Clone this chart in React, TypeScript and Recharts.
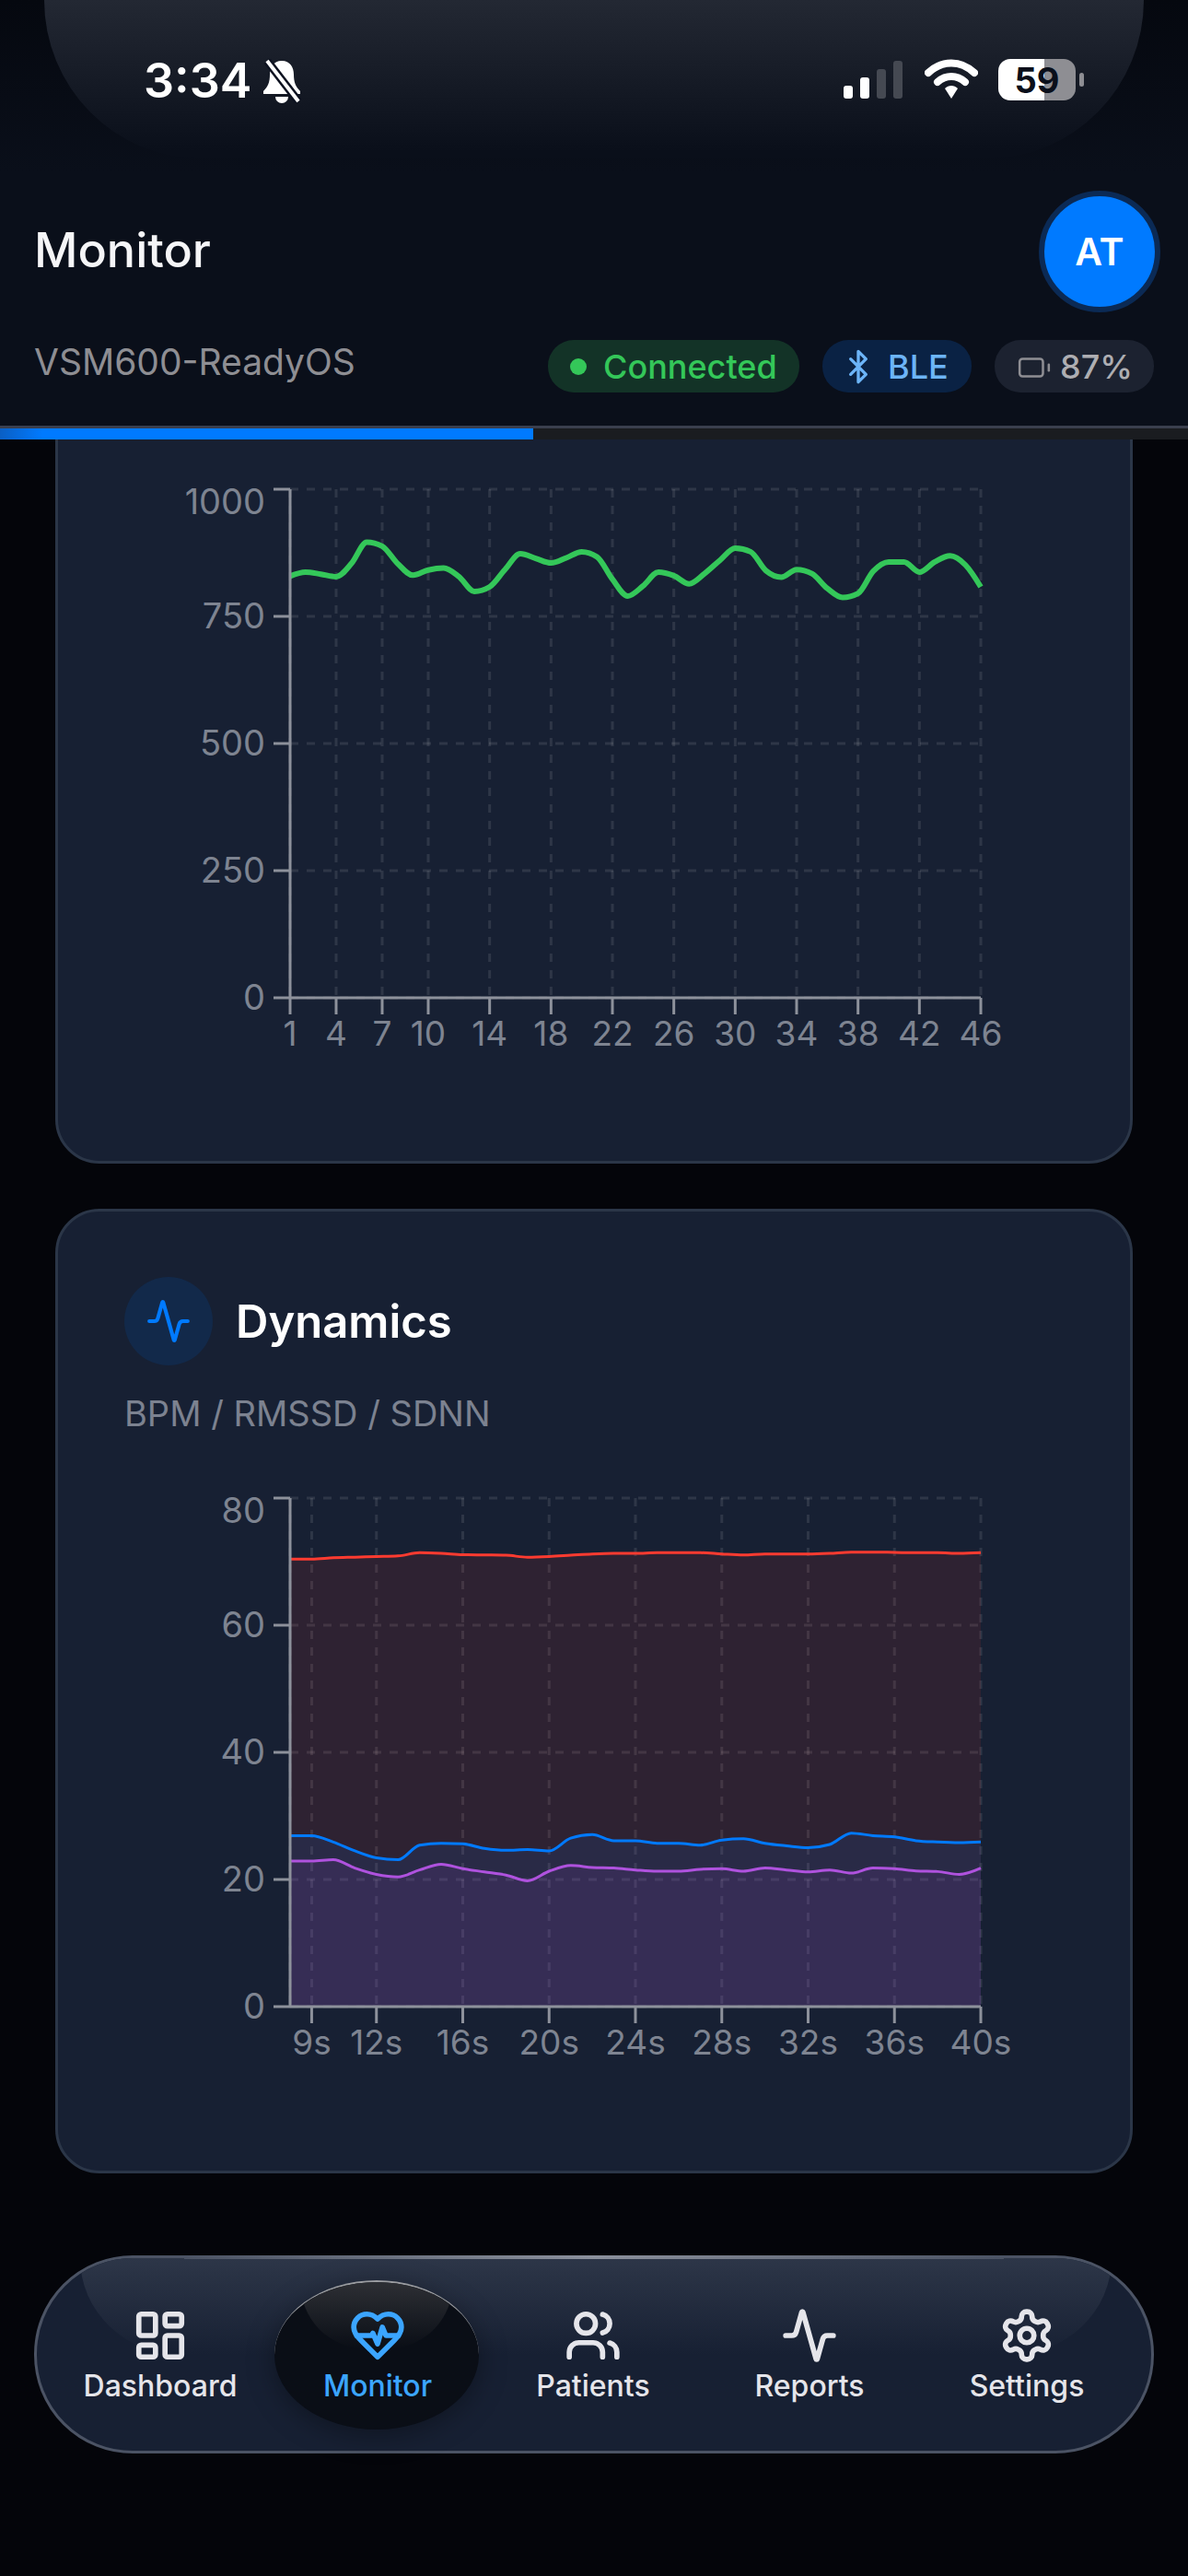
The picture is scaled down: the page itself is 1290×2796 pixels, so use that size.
import { LineChart, Line, AreaChart, Area, XAxis, YAxis, CartesianGrid } from "recharts";

const beatIndex = [1,2,3,4,5,6,7,8,9,10,11,12,13,14,15,16,17,18,19,20,21,22,23,24,25,26,27,28,29,30,31,32,33,34,35,36,37,38,39,40,41,42,43,44,45,46];
const rrValues = [829,837,833,828,854,896,888,854,831,841,845,828,799,808,842,873,864,855,865,877,867,823,790,810,837,830,814,834,860,884,877,840,827,842,834,805,787,795,839,857,857,837,857,869,851,808];
const rrXTicks = [1,4,7,10,14,18,22,26,30,34,38,42,46];
const rrYTicks = [0,250,500,750,1000];

const seconds = [8,9,10,11,12,13,14,15,16,17,18,19,20,21,22,23,24,25,26,27,28,29,30,31,32,33,34,35,36,37,38,39,40];
const bpm = [70.4,70.4,70.6,70.7,70.8,70.9,71.4,71.3,71.1,71.05,71.0,70.7,70.8,71.0,71.2,71.3,71.3,71.4,71.4,71.4,71.2,71.05,71.2,71.2,71.2,71.3,71.5,71.5,71.45,71.4,71.4,71.3,71.4];
const rmssd = [26.9,26.9,25.9,24.5,23.4,23.1,25.4,25.7,25.6,24.9,24.6,24.7,24.5,26.5,27.05,26.1,26.1,25.7,25.7,25.4,26.2,26.4,25.7,25.3,25.0,25.5,27.3,26.9,26.7,26.1,25.9,25.8,25.9];
const sdnn = [22.9,22.9,23.1,21.8,20.8,20.4,21.5,22.4,21.7,21.2,20.7,19.8,21.3,22.2,21.9,21.8,21.5,21.3,21.3,21.6,21.7,21.3,21.8,21.5,21.2,21.5,21.0,21.8,21.7,21.35,21.25,20.8,21.8];
const dynXTicks = [9,12,16,20,24,28,32,36,40];
const dynYTicks = [0,20,40,60,80];

const rrData = beatIndex.map((i, n) => ({ i, rr: rrValues[n] }));
const dynData = seconds.map((s, n) => ({ s, bpm: bpm[n], rmssd: rmssd[n], sdnn: sdnn[n] }));

const FONT = "Inter, 'Noto Sans', sans-serif";
const AXIS = "#8d919b";
const TICK = "#7e8491";
const GRID = "rgba(255,255,255,0.1)";

// the top label sits lower than its tick in the reference
function yTick(top: number) {
  return (p: any) => (
    <text
      x={108}
      y={p.y + (p.payload.value === top ? 14 : 0)}
      dy={13}
      textAnchor="end"
      fill={TICK}
      fontSize={38}
      fontFamily={FONT}
    >
      {p.payload.value}
    </text>
  );
}

function Txt({ x, y, size, weight = 400, color, anchor = "left", children }: any) {
  const shift = anchor === "center" ? "translate(-50%,-50%)" : anchor === "right" ? "translate(-100%,-50%)" : "translateY(-50%)";
  return (
    <div
      style={{
        position: "absolute",
        left: x,
        top: y,
        transform: shift,
        fontSize: size,
        fontWeight: weight,
        color,
        fontFamily: FONT,
        whiteSpace: "nowrap",
        lineHeight: 1,
      }}
    >
      {children}
    </div>
  );
}

function Box({ x, y, w, h, style }: any) {
  return <div style={{ position: "absolute", left: x, top: y, width: w, height: h, boxSizing: "border-box", ...style }} />;
}

function Icon({ cx, cy, size, color, width = 2, children }: any) {
  return (
    <svg
      viewBox="0 0 24 24"
      width={size}
      height={size}
      fill="none"
      stroke={color}
      strokeWidth={width}
      strokeLinecap="round"
      strokeLinejoin="round"
      style={{ position: "absolute", left: cx - size / 2, top: cy - size / 2 }}
    >
      {children}
    </svg>
  );
}

const ActivityPath = () => (
  <path d="M22 12h-2.48a2 2 0 0 0-1.93 1.46l-2.35 8.36a.25.25 0 0 1-.48 0L9.24 2.18a.25.25 0 0 0-.48 0l-2.35 8.36A2 2 0 0 1 4.49 12H2" />
);

function StatusBar() {
  return (
    <>
      <Box
        x={48}
        y={0}
        w={1194}
        h={172}
        style={{
          background: "linear-gradient(#232833, #0a0f1a 95%)",
          borderBottomLeftRadius: "170px 172px",
          borderBottomRightRadius: "170px 172px",
        }}
      />
      <Txt x={156} y={88} size={52} weight={600} color="#fff">3:34</Txt>
      <svg width={46} height={48} viewBox="0 0 46 48" style={{ position: "absolute", left: 283, top: 64 }}>
        <path d="M23 2c-9 0-13 7-13 15 0 8-2 13-7 18v3h40v-3c-5-5-7-10-7-18 0-8-4-15-13-15z" fill="#fff" />
        <path d="M16 41a7 7 0 0 0 14 0z" fill="#fff" />
        <path d="M7 2l34 44" stroke="#0d1220" strokeWidth={9} />
        <path d="M7 2l34 44" stroke="#fff" strokeWidth={4} />
      </svg>
      <Box x={916} y={93} w={10} h={14} style={{ background: "#fff", borderRadius: 3 }} />
      <Box x={934} y={84} w={10} h={23} style={{ background: "#fff", borderRadius: 3 }} />
      <Box x={952} y={75} w={10} h={32} style={{ background: "#454952", borderRadius: 3 }} />
      <Box x={970} y={66} w={10} h={41} style={{ background: "#454952", borderRadius: 3 }} />
      <svg width={58} height={44} viewBox="0 0 58 44" style={{ position: "absolute", left: 1004, top: 64 }}>
        <path d="M4 15C19 1 39 1 54 15" stroke="#fff" strokeWidth={8} fill="none" strokeLinecap="round" />
        <path d="M14 25c9-8 21-8 30 0" stroke="#fff" strokeWidth={8} fill="none" strokeLinecap="round" />
        <path d="M22 32c4-4 10-4 14 0l-7 11z" fill="#fff" />
      </svg>
      <Box x={1084} y={64} w={84} h={45} style={{ background: "linear-gradient(90deg,#fff 0 60%,#8e8e93 60% 100%)", borderRadius: 13 }} />
      <Box x={1172} y={79} w={5} h={15} style={{ background: "#8e8e93", borderRadius: 3 }} />
      <Txt x={1126} y={87} size={38} weight={700} color="#0a0f1a" anchor="center">59</Txt>
    </>
  );
}

function Header() {
  return (
    <>
      <Box x={0} y={0} w={1290} h={465} style={{ background: "linear-gradient(#05080f, #0a0f1a 40%)" }} />
      <StatusBar />
      <Txt x={37} y={272} size={52} weight={500} color="#f5f5f7">Monitor</Txt>
      <Box x={1128} y={207} w={132} h={132} style={{ background: "#007aff", border: "6px solid #0b2a55", borderRadius: "50%" }} />
      <Txt x={1194} y={273} size={41} weight={600} color="#fff" anchor="center">AT</Txt>
      <Txt x={37} y={392} size={39} color="#8e8e93">VSM600-ReadyOS</Txt>

      <Box x={595} y={369} w={273} h={57} style={{ background: "#133327", borderRadius: 28 }} />
      <Box x={619} y={389} w={18} h={18} style={{ background: "#34c759", borderRadius: "50%" }} />
      <Txt x={655} y={398} size={36} weight={500} color="#34c759">Connected</Txt>

      <Box x={893} y={369} w={162} h={57} style={{ background: "#0a2244", borderRadius: 28 }} />
      <Icon cx={932} cy={398} size={40} color="#6cb4f8">
        <path d="m7 7 10 10-5 5V2l5 5L7 17" />
      </Icon>
      <Txt x={964} y={398} size={36} weight={500} color="#6cb4f8">BLE</Txt>

      <Box x={1080} y={369} w={173} h={57} style={{ background: "#1c2230", borderRadius: 28 }} />
      <Icon cx={1123} cy={399} size={38} color="#8e8e93" width={1.6}>
        <rect x={2} y={6} width={16} height={12} rx={2} />
        <path d="M22 14v-4" />
      </Icon>
      <Txt x={1151} y={398} size={36} weight={500} color="#aeaeb2">87%</Txt>

      <Box x={0} y={462} w={1290} h={3} style={{ background: "#3a3f4e" }} />
      <Box x={0} y={465} w={1290} h={12} style={{ background: "#1a1c20" }} />
      <Box x={0} y={465} w={579} h={12} style={{ background: "linear-gradient(90deg,#0a5fc4,#007aff 8%)" }} />
    </>
  );
}

function RRChart() {
  return (
    <div style={{ position: "absolute", left: 180, top: 500 }}>
      <LineChart width={950} height={700} data={rrData} margin={{ top: 31, right: 65, left: 0, bottom: 17 }}>
        <CartesianGrid stroke={GRID} strokeWidth={3} strokeDasharray="9 9" />
        <XAxis
          dataKey="i"
          type="number"
          domain={[1, 46]}
          ticks={rrXTicks}
          interval={0}
          height={100}
          tickSize={18}
          tickMargin={8}
          stroke={AXIS}
          strokeWidth={3}
          tick={{ fill: TICK, fontSize: 37, fontFamily: FONT }}
        />
        <YAxis
          type="number"
          domain={[0, 1000]}
          ticks={rrYTicks}
          interval={0}
          width={135}
          tickSize={18}
          stroke={AXIS}
          strokeWidth={3}
          tick={yTick(1000)}
        />
        <Line type="monotone" dataKey="rr" stroke="#34c759" strokeWidth={6} dot={false} isAnimationActive={false} />
      </LineChart>
    </div>
  );
}

function DynamicsChart() {
  return (
    <div style={{ position: "absolute", left: 180, top: 1595 }}>
      <AreaChart width={950} height={700} data={dynData} margin={{ top: 31, right: 65, left: 0, bottom: 17 }}>
        <CartesianGrid stroke={GRID} strokeWidth={3} strokeDasharray="9 9" />
        <XAxis
          dataKey="s"
          type="number"
          domain={[8, 40]}
          ticks={dynXTicks}
          interval={0}
          height={100}
          tickSize={18}
          tickMargin={8}
          tickFormatter={(v: number) => `${v}s`}
          stroke={AXIS}
          strokeWidth={3}
          tick={{ fill: TICK, fontSize: 37, fontFamily: FONT }}
        />
        <YAxis
          type="number"
          domain={[0, 80]}
          ticks={dynYTicks}
          interval={0}
          width={135}
          tickSize={18}
          stroke={AXIS}
          strokeWidth={3}
          tick={yTick(80)}
        />
        <Area type="monotone" dataKey="bpm" stroke="#ff3b30" strokeWidth={3} fill="#ff3b30" fillOpacity={0.1} dot={false} isAnimationActive={false} />
        <Area type="monotone" dataKey="rmssd" stroke="#007aff" strokeWidth={3} fill="#007aff" fillOpacity={0.1} dot={false} isAnimationActive={false} />
        <Area type="monotone" dataKey="sdnn" stroke="#af52de" strokeWidth={3} fill="#af52de" fillOpacity={0.1} dot={false} isAnimationActive={false} />
      </AreaChart>
    </div>
  );
}

const NAV_ITEM = "#e5e5ea";

function BottomNav() {
  return (
    <>
      <div
        style={{
          position: "absolute",
          left: 37,
          top: 2448,
          width: 1216,
          height: 215,
          boxSizing: "border-box",
          borderRadius: 107,
          border: "3px solid #4b5364",
          background: "#172033",
          overflow: "hidden",
        }}
      >
        <Box
          x={47}
          y={0}
          w={1120}
          h={105}
          style={{
            background: "linear-gradient(#2d3648, #172033)",
            borderBottomLeftRadius: "110px 105px",
            borderBottomRightRadius: "110px 105px",
          }}
        />
      </div>
      <Box x={200} y={2448} w={890} h={4} style={{ background: "linear-gradient(90deg,#4b5364,#8b909c 50%,#4b5364)" }} />
      <div
        style={{
          position: "absolute",
          left: 298,
          top: 2475,
          width: 222,
          height: 162,
          borderRadius: "111px / 81px",
          overflow: "hidden",
          background: "#0a0e16",
          borderTop: "2px solid #9a9ca0",
          boxSizing: "border-box",
          boxShadow: "0 6px 30px rgba(0,0,0,0.35)",
        }}
      >
        <Box
          x={28}
          y={0}
          w={166}
          h={72}
          style={{
            background: "linear-gradient(#2d2f34, #0a0e16)",
            borderBottomLeftRadius: "70px 72px",
            borderBottomRightRadius: "70px 72px",
          }}
        />
      </div>

      <Icon cx={174} cy={2535} size={62} color={NAV_ITEM} width={2.2}>
        <rect x={3} y={3} width={7} height={9} rx={1} />
        <rect x={14} y={3} width={7} height={5} rx={1} />
        <rect x={14} y={12} width={7} height={9} rx={1} />
        <rect x={3} y={16} width={7} height={5} rx={1} />
      </Icon>
      <Txt x={174} y={2590} size={32} weight={500} color={NAV_ITEM} anchor="center">Dashboard</Txt>

      <Icon cx={410} cy={2535} size={62} color="#3ba5ff" width={2.2}>
        <path d="M19 14c1.49-1.46 3-3.21 3-5.5A5.5 5.5 0 0 0 16.5 3c-1.76 0-3 .5-4.5 2-1.5-1.5-2.74-2-4.5-2A5.5 5.5 0 0 0 2 8.5c0 2.3 1.5 4.05 3 5.5l7 7Z" />
        <path d="M3.22 12H9.5l.5-1 2 4.5 2-7 1.5 3.5h5.27" />
      </Icon>
      <Txt x={410} y={2590} size={32} weight={500} color="#3ba5ff" anchor="center">Monitor</Txt>

      <Icon cx={644} cy={2535} size={62} color={NAV_ITEM} width={2.2}>
        <path d="M16 21v-2a4 4 0 0 0-4-4H6a4 4 0 0 0-4 4v2" />
        <circle cx={9} cy={7} r={4} />
        <path d="M22 21v-2a4 4 0 0 0-3-3.87" />
        <path d="M16 3.13a4 4 0 0 1 0 7.75" />
      </Icon>
      <Txt x={644} y={2590} size={32} weight={500} color={NAV_ITEM} anchor="center">Patients</Txt>

      <Icon cx={879} cy={2535} size={62} color={NAV_ITEM} width={2.2}>
        <ActivityPath />
      </Icon>
      <Txt x={879} y={2590} size={32} weight={500} color={NAV_ITEM} anchor="center">Reports</Txt>

      <Icon cx={1115} cy={2535} size={62} color={NAV_ITEM} width={2.2}>
        <path d="M12.22 2h-.44a2 2 0 0 0-2 2v.18a2 2 0 0 1-1 1.73l-.43.25a2 2 0 0 1-2 0l-.15-.08a2 2 0 0 0-2.73.73l-.22.38a2 2 0 0 0 .73 2.73l.15.1a2 2 0 0 1 1 1.72v.51a2 2 0 0 1-1 1.74l-.15.09a2 2 0 0 0-.73 2.73l.22.38a2 2 0 0 0 2.73.73l.15-.08a2 2 0 0 1 2 0l.43.25a2 2 0 0 1 1 1.73V20a2 2 0 0 0 2 2h.44a2 2 0 0 0 2-2v-.18a2 2 0 0 1 1-1.73l.43-.25a2 2 0 0 1 2 0l.15.08a2 2 0 0 0 2.73-.73l.22-.39a2 2 0 0 0-.73-2.73l-.15-.08a2 2 0 0 1-1-1.74v-.5a2 2 0 0 1 1-1.74l.15-.09a2 2 0 0 0 .73-2.73l-.22-.38a2 2 0 0 0-2.73-.73l-.15.08a2 2 0 0 1-2 0l-.43-.25a2 2 0 0 1-1-1.73V4a2 2 0 0 0-2-2z" />
        <circle cx={12} cy={12} r={3} />
      </Icon>
      <Txt x={1115} y={2590} size={32} weight={500} color={NAV_ITEM} anchor="center">Settings</Txt>
    </>
  );
}

export default function App() {
  return (
    <div style={{ position: "absolute", left: 0, top: 0, width: 1290, height: 2796, overflow: "hidden", background: "#04050a", fontFamily: FONT }}>
      <Box
        x={60}
        y={300}
        w={1170}
        h={963}
        style={{ background: "#172033", border: "3px solid #2b3648", borderRadius: 48 }}
      />
      <RRChart />

      <Box
        x={60}
        y={1312}
        w={1170}
        h={1047}
        style={{ background: "#172033", border: "3px solid #2b3648", borderRadius: 48 }}
      />
      <Box x={135} y={1386} w={96} h={96} style={{ background: "#12294a", borderRadius: "50%" }} />
      <Icon cx={183} cy={1434} size={50} color="#007aff">
        <ActivityPath />
      </Icon>
      <Txt x={256} y={1434} size={49} weight={600} color="#fff">Dynamics</Txt>
      <Txt x={135} y={1534} size={38} color="#7c8290">BPM / RMSSD / SDNN</Txt>
      <DynamicsChart />

      <Header />
      <BottomNav />
    </div>
  );
}
